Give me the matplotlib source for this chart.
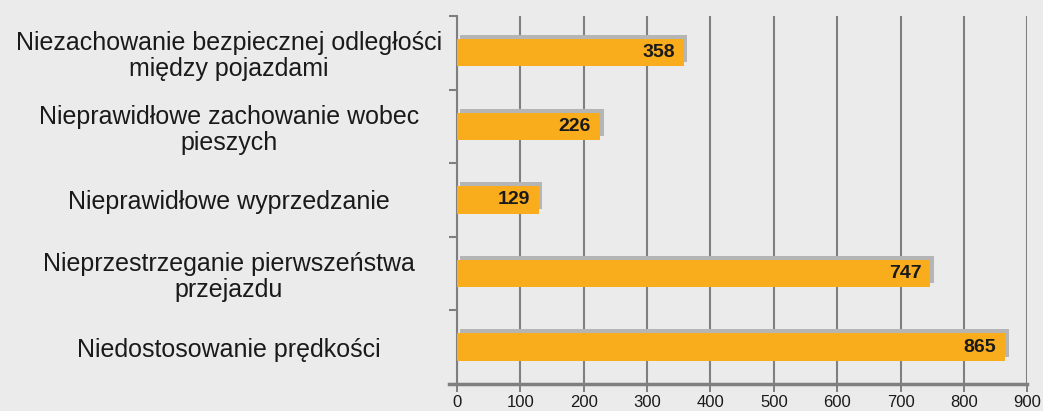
import matplotlib
matplotlib.use("Agg")
import matplotlib.pyplot as plt
import matplotlib.patheffects as pe
import numpy as np

# Data (bottom to top)
categories = [
    "Niedostosowanie prędkości",
    "Nieprzestrzeganie pierwszeństwa\nprzejazdu",
    "Nieprawidłowe wyprzedzanie",
    "Nieprawidłowe zachowanie wobec\npieszych",
    "Niezachowanie bezpiecznej odległości\nmiędzy pojazdami",
]
values = [865, 747, 129, 226, 358]
xticks = [0, 100, 200, 300, 400, 500, 600, 700, 800, 900]

plt.rcParams['font.family'] = ['Liberation Sans', 'DejaVu Sans']

bg = '#ebebeb'
bar_color = '#f9ac1c'
grid_color = '#7f7f7f'

fig = plt.figure(figsize=(10.43, 4.11), dpi=100, facecolor=bg)
ax = fig.add_axes([0.438, 0.066, 0.547, 0.895])
ax.set_facecolor(bg)

y = np.arange(len(categories))
bars = ax.barh(y, values, height=0.37, color=bar_color, zorder=3)
for b in bars:
    b.set_path_effects([pe.SimplePatchShadow(offset=(2.5, 3), shadow_rgbFace='#b5b5b5', alpha=1.0),
                        pe.Normal()])

for yi, v in zip(y, values):
    ax.text(v - 14, yi, str(v), ha='right', va='center', fontsize=14,
            fontweight='bold', color='#1a1a1a', zorder=4)

ax.set_xlim(0, 900)
ax.set_ylim(-0.5, len(categories) - 0.5)
ax.set_xticks(xticks)
ax.set_xticklabels([str(t) for t in xticks], fontsize=12, color='#1a1a1a')
ax.xaxis.grid(True, color=grid_color, linewidth=1.5, zorder=1)

ax.set_yticks(y)
ax.set_yticklabels(categories, fontsize=18, color='#1a1a1a', ha='center',
                   multialignment='center', linespacing=1.1)
ax.set_yticks(np.arange(-0.5, len(categories), 1.0), minor=True)
ax.tick_params(axis='y', which='major', length=0, pad=164)
ax.tick_params(axis='y', which='minor', length=6, width=1.5, color=grid_color, direction='out')
ax.tick_params(axis='x', length=6, width=1.4, color=grid_color, direction='out', pad=2)

for s in ['top', 'right']:
    ax.spines[s].set_visible(False)
ax.spines['left'].set_color(grid_color)
ax.spines['left'].set_linewidth(1.5)
ax.spines['bottom'].set_color(grid_color)
ax.spines['bottom'].set_linewidth(2.5)
ax.spines['bottom'].set_bounds(-13, 900)
ax.spines['bottom'].set_zorder(4)

fig.savefig('out.png', dpi=100, facecolor=bg)
